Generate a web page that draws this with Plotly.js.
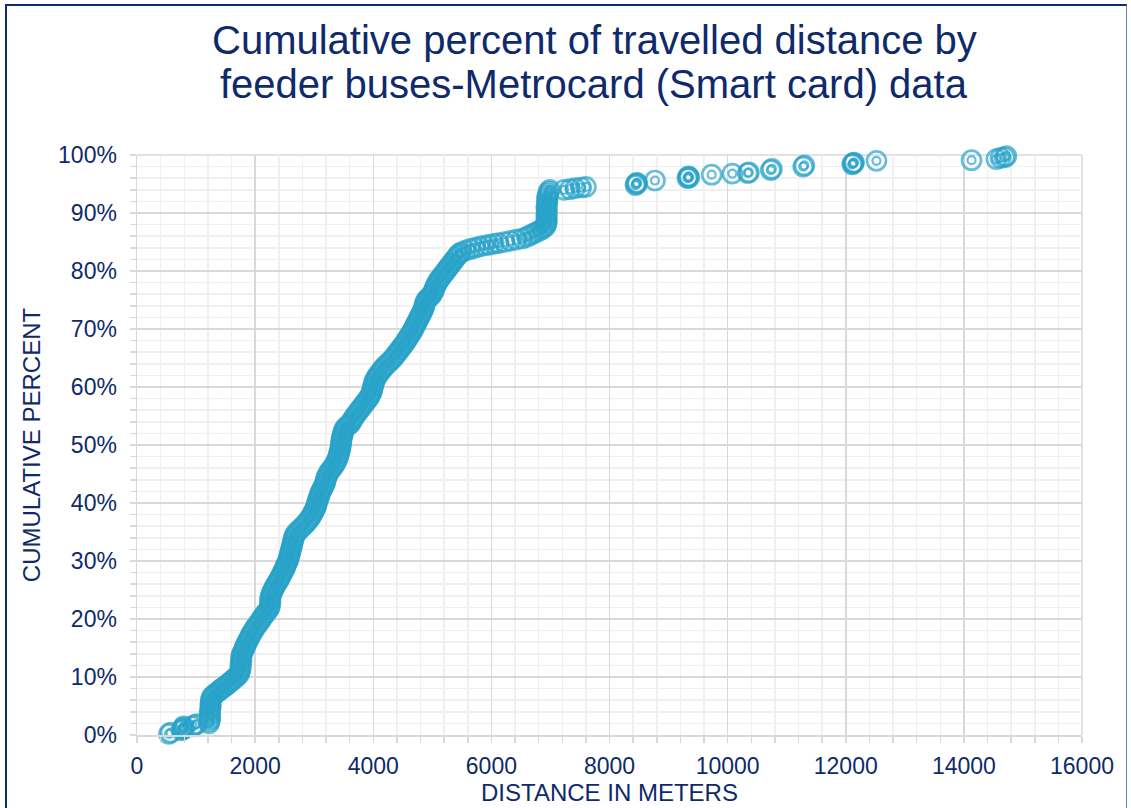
<!DOCTYPE html>
<html>
<head>
<meta charset="utf-8">
<script src="https://cdn.plot.ly/plotly-3.0.1.min.js"></script>
<style>
  html, body { margin: 0; padding: 0; background: #ffffff; overflow: hidden; }
  #chart { position: absolute; left: 0; top: 0; width: 1131px; height: 808px; }
  #frame { position: absolute; left: 5px; top: 4px; width: 1119px; height: 830px;
           border-left: 2px solid #0f2d6e; border-top: 2px solid #0f2d6e; border-right: 1px solid #6a7fae;
           pointer-events: none; }
</style>
</head>
<body>
<div id="chart"></div>
<div id="frame"></div>
<script>
// Distance in meters for each trip record
const dist = [
  540, 570,
  750, 770, 780, 790, 800,
  940, 980, 1010,
  1220, 1230, 1240, 1230, 1240, 1230, 1240, 1250, 1240, 1250, 1250, 1260, 1280,
  1310, 1350, 1390, 1420, 1450, 1490, 1530, 1560, 1600, 1630, 1670, 1700, 1730,
  1740, 1750, 1760, 1750, 1760, 1770, 1760, 1770, 1780,
  1800, 1820, 1830, 1850, 1870, 1890, 1910, 1930, 1950, 1980, 2000, 2030, 2060, 2090,
  2110, 2140, 2170, 2200, 2230, 2250, 2250, 2260, 2250, 2260, 2270, 2280,
  2300, 2320, 2340, 2360, 2390, 2410, 2430, 2450, 2470, 2490, 2510, 2520, 2540, 2560, 2570, 2580, 2590,
  2600, 2610, 2620, 2630, 2640, 2650, 2660, 2670, 2700, 2740, 2780, 2820, 2860, 2890, 2920, 2950, 2970,
  2990, 3010, 3030, 3040, 3050, 3060, 3080, 3090, 3100,
  3120, 3140, 3160, 3180, 3190, 3200, 3210, 3230, 3250, 3280, 3310, 3340, 3360, 3380, 3400, 3410,
  3420, 3430, 3440, 3450, 3450, 3460, 3460, 3470, 3480, 3490, 3500, 3520, 3550, 3590, 3620, 3640,
  3660, 3690, 3720, 3750, 3780, 3810, 3840, 3870, 3900, 3930, 3950, 3970, 3980, 3990, 4000, 4010,
  4020, 4040, 4060, 4090, 4120, 4150, 4180, 4220, 4260, 4300, 4340, 4370, 4400,
  4430, 4460, 4490, 4520, 4550, 4570, 4600, 4620, 4650, 4670, 4690, 4710, 4730, 4750, 4770, 4790, 4810,
  4830, 4850, 4860, 4870, 4880, 4900, 4930, 4960, 4990, 5010, 5030, 5040, 5060, 5080, 5100, 5130,
  5160, 5190, 5220, 5250, 5280, 5310, 5340, 5370, 5400, 5430, 5460,
  5490, 5560, 5640, 5720, 5800, 5880, 5960, 6040, 6120, 6220, 6320, 6420, 6520, 6600, 6660, 6720,
  6780, 6840, 6880,
  6920, 6930, 6940, 6930, 6940, 6930, 6940, 6940, 6930, 6940, 6940, 6950, 6940, 6950, 6960, 6970, 6990,
  7230, 7330, 7420, 7520, 7600,
  8440, 8450, 8460, 8470,
  8770,
  9320, 9330, 9340, 9350,
  9730,
  10080,
  10340, 10360,
  10730, 10750,
  11280, 11300,
  12110, 12130, 12140, 12120,
  12520,
  14130,
  14550, 14620, 14690, 14720
];
// Cumulative percent for each record
const pct = [
  0.2, 0.4,
  0.8, 1.0, 1.3, 1.5, 1.1,
  1.5, 1.7, 1.9,
  2.0, 2.4, 2.8, 3.2, 3.6, 4.0, 4.4, 4.8, 5.2, 5.6, 6.0, 6.4, 6.7,
  7.0, 7.3, 7.6, 7.9, 8.1, 8.4, 8.7, 9.0, 9.3, 9.6, 9.9, 10.2, 10.5,
  10.9, 11.3, 11.7, 12.1, 12.5, 12.9, 13.3, 13.7, 14.1,
  14.5, 14.9, 15.3, 15.7, 16.1, 16.5, 16.9, 17.3, 17.7, 18.1, 18.5, 18.9, 19.3, 19.7,
  20.1, 20.5, 20.9, 21.3, 21.7, 22.1, 22.5, 22.9, 23.3, 23.7, 24.1, 24.5,
  24.9, 25.3, 25.7, 26.1, 26.5, 26.9, 27.3, 27.7, 28.1, 28.5, 28.9, 29.3, 29.7, 30.1, 30.5, 30.9, 31.3,
  31.7, 32.1, 32.5, 32.9, 33.3, 33.7, 34.1, 34.5, 34.9, 35.3, 35.7, 36.1, 36.5, 36.9, 37.3, 37.7, 38.1,
  38.5, 38.9, 39.3, 39.7, 40.1, 40.5, 40.9, 41.3, 41.7,
  42.1, 42.5, 42.9, 43.3, 43.7, 44.1, 44.5, 44.9, 45.3, 45.7, 46.1, 46.5, 46.9, 47.3, 47.7, 48.1,
  48.5, 48.9, 49.3, 49.7, 50.1, 50.5, 50.9, 51.3, 51.7, 52.1, 52.5, 52.9, 53.2, 53.5, 53.8, 54.2,
  54.6, 55.0, 55.4, 55.8, 56.2, 56.6, 57.0, 57.4, 57.8, 58.2, 58.6, 59.0, 59.4, 59.8, 60.2, 60.6,
  61.0, 61.4, 61.8, 62.2, 62.6, 63.0, 63.4, 63.8, 64.2, 64.6, 65.0, 65.4, 65.8,
  66.2, 66.6, 67.0, 67.4, 67.8, 68.2, 68.6, 69.0, 69.4, 69.8, 70.2, 70.6, 71.0, 71.4, 71.8, 72.2, 72.6,
  73.0, 73.4, 73.8, 74.2, 74.6, 75.0, 75.3, 75.6, 75.9, 76.3, 76.7, 77.1, 77.5, 77.9, 78.3, 78.7,
  79.1, 79.5, 79.9, 80.3, 80.7, 81.1, 81.5, 81.9, 82.3, 82.7, 83.0,
  83.2, 83.5, 83.8, 84.0, 84.2, 84.4, 84.5, 84.7, 84.8, 85.0, 85.2, 85.4, 85.6, 85.9, 86.2, 86.5,
  86.8, 87.1, 87.4,
  87.7, 88.1, 88.5, 88.9, 89.3, 89.7, 90.1, 90.5, 90.9, 91.3, 91.7, 92.1, 92.5, 92.9, 93.3, 93.7, 94.0,
  94.0, 94.1, 94.3, 94.4, 94.5,
  94.8, 95.0, 95.2, 95.1,
  95.6,
  96.0, 96.2, 96.3, 96.1,
  96.6,
  96.8,
  96.9, 97.0,
  97.4, 97.6,
  98.0, 98.2,
  98.4, 98.6, 98.7, 98.5,
  99.0,
  99.1,
  99.3, 99.5, 99.6, 99.8
];

const xTickVals = [0, 2000, 4000, 6000, 8000, 10000, 12000, 14000, 16000];
const yTickVals = [0, 10, 20, 30, 40, 50, 60, 70, 80, 90, 100];
const yTickText = ['0%', '10%', '20%', '30%', '40%', '50%', '60%', '70%', '80%', '90%', '100%'];

const titleLine1 = 'Cumulative percent of travelled distance by';
const titleLine2 = 'feeder buses-Metrocard (Smart card) data';
const xTitle = 'DISTANCE IN METERS';
const yTitle = 'CUMULATIVE PERCENT';

const navy = '#0e2a6b';
const markerColor = 'rgba(40,163,201,0.7)';
const fontFam = 'Liberation Sans, Arial, sans-serif';

const traces = [
  {
    x: dist, y: pct, type: 'scatter', mode: 'markers', cliponaxis: false, hoverinfo: 'skip',
    marker: { symbol: 'circle-open', size: 19, color: markerColor, line: { width: 2.7, color: markerColor } },
    showlegend: false
  },
  {
    x: dist, y: pct, type: 'scatter', mode: 'markers', cliponaxis: false, hoverinfo: 'skip',
    marker: { symbol: 'circle-open', size: 8, color: markerColor, line: { width: 2.2, color: markerColor } },
    showlegend: false
  }
];

const layout = {
  width: 1131, height: 808,
  margin: { l: 137, r: 49, t: 155, b: 73 },
  paper_bgcolor: '#ffffff', plot_bgcolor: '#ffffff',
  font: { family: fontFam, color: navy, size: 23 },
  showlegend: false,
  xaxis: {
    range: [0, 16000], tickvals: xTickVals, tickformat: 'd',
    showgrid: true, gridcolor: '#d9d9d9', gridwidth: 1.5,
    ticks: 'outside', ticklen: 6, tickcolor: '#d9d9d9', tickwidth: 1.5,
    showline: true, linecolor: '#d9d9d9', linewidth: 1.5,
    zeroline: false, mirror: false,
    tickfont: { size: 23, color: navy, family: fontFam },
    ticklabelstandoff: 4,
    minor: { dtick: 400, showgrid: true, gridcolor: '#f0f0f0', gridwidth: 1.5, ticks: 'outside', ticklen: 6, tickcolor: '#d9d9d9', tickwidth: 1.5 },
    title: { text: xTitle, font: { size: 24, color: navy, family: fontFam }, standoff: 5 }
  },
  yaxis: {
    range: [0, 100], tickvals: yTickVals, ticktext: yTickText,
    showgrid: true, gridcolor: '#d9d9d9', gridwidth: 1.5,
    ticks: 'outside', ticklen: 6, tickcolor: '#d9d9d9', tickwidth: 1.5,
    showline: true, linecolor: '#d9d9d9', linewidth: 1.5,
    zeroline: false,
    tickfont: { size: 23, color: navy, family: fontFam },
    ticklabelstandoff: 8,
    minor: { dtick: 2, showgrid: true, gridcolor: '#f0f0f0', gridwidth: 1.5, ticks: 'outside', ticklen: 6, tickcolor: '#d9d9d9', tickwidth: 1.5 },
    title: { text: yTitle, font: { size: 24, color: navy, family: fontFam }, standoff: 10 }
  },
  annotations: [
    { text: titleLine1, xref: 'paper', yref: 'paper', x: 0.4836, y: 1.199, xanchor: 'center', yanchor: 'middle',
      showarrow: false, font: { size: 40, color: navy, family: fontFam } },
    { text: titleLine2, xref: 'paper', yref: 'paper', x: 0.4836, y: 1.122, xanchor: 'center', yanchor: 'middle',
      showarrow: false, font: { size: 40, color: navy, family: fontFam } }
  ],
  shapes: [
    { type: 'line', xref: 'paper', yref: 'paper', x0: 0, x1: 1, y0: 1, y1: 1, line: { color: '#d9d9d9', width: 1.5 }, layer: 'below' },
    { type: 'line', xref: 'paper', yref: 'paper', x0: 1, x1: 1, y0: 0, y1: 1, line: { color: '#d9d9d9', width: 1.5 }, layer: 'below' }
  ]
};

Plotly.newPlot('chart', traces, layout, { staticPlot: true, displayModeBar: false });
</script>
</body>
</html>
